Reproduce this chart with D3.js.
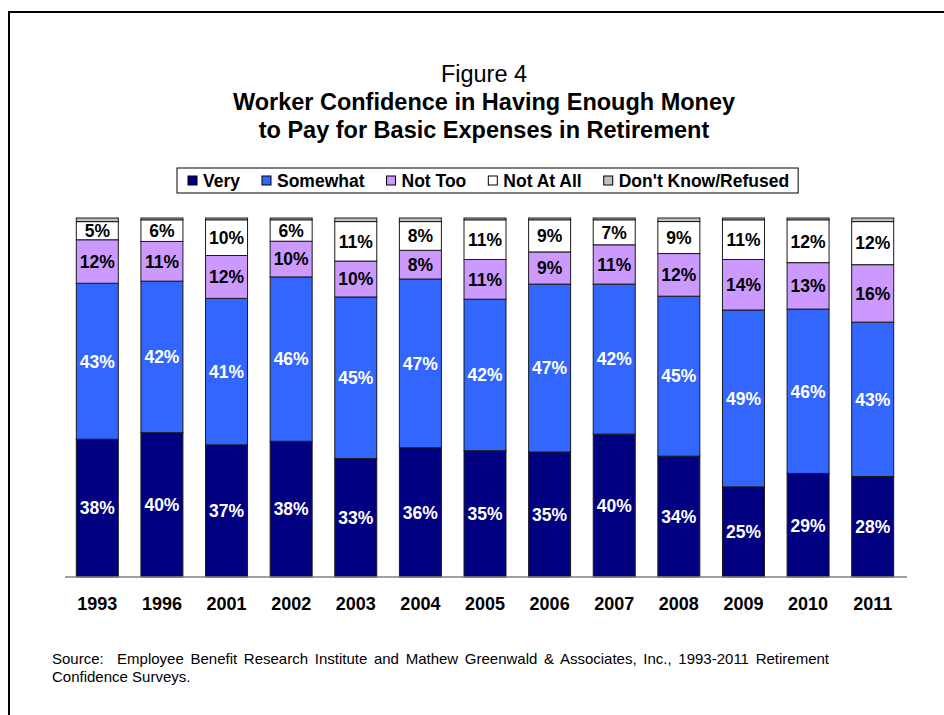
<!DOCTYPE html>
<html>

<head>
  <title>Figure 4</title>
  <script src="https://cdn.jsdelivr.net/npm/d3@7"></script>
  <style>
    body { margin: 0; background: #fff; }
    text { font-family: Arial, "Liberation Sans", sans-serif; white-space: pre; }
  </style>
</head>

<body>
  <svg width="944" height="715" id="mainsvg"></svg>
  <script>
    // values (percent)
    const years = ['1993', '1996', '2001', '2002', '2003', '2004', '2005', '2006', '2007', '2008', '2009', '2010', '2011'];
    const very = [38, 40, 37, 38, 33, 36, 35, 35, 40, 34, 25, 29, 28];
    const somewhat = [43, 42, 41, 46, 45, 47, 42, 47, 42, 45, 49, 46, 43];
    const notToo = [12, 11, 12, 10, 10, 8, 11, 9, 11, 12, 14, 13, 16];
    const notAtAll = [5, 6, 10, 6, 11, 8, 11, 9, 7, 9, 11, 12, 12];
    const dontKnow = [1, 0.5, 0.5, 0.5, 1, 1, 0.5, 0.5, 0.5, 1, 0.5, 0.5, 1]; // no labels shown, estimated from the grey slivers

    const seriesNames = ['Very', 'Somewhat', 'Not Too', 'Not At All', "Don't Know/Refused"];
    const seriesValues = [very, somewhat, notToo, notAtAll, dontKnow];
    const colors = ['#000080', '#3366FF', '#CC99FF', '#FFFFFF', '#C0C0C0'];
    const labelColors = ['#fff', '#fff', '#000', '#000', null];

    const svg = d3.select('#mainsvg');
    const width = +svg.attr('width');
    const height = +svg.attr('height');

    // frame (right and bottom edges run off the page)
    svg.append('rect')
      .attr('x', 9).attr('y', 12)
      .attr('width', width + 20).attr('height', height + 20)
      .attr('fill', 'none').attr('stroke', '#000').attr('stroke-width', 2);

    // titles
    svg.append('text').attr('x', 484).attr('y', 82)
      .attr('text-anchor', 'middle').attr('font-size', 23.5)
      .text('Figure 4');
    svg.append('text').attr('x', 484).attr('y', 110)
      .attr('text-anchor', 'middle').attr('font-size', 23.5).attr('font-weight', 'bold')
      .text('Worker Confidence in Having Enough Money');
    svg.append('text').attr('x', 484).attr('y', 138)
      .attr('text-anchor', 'middle').attr('font-size', 23.5).attr('font-weight', 'bold')
      .text('to Pay for Basic Expenses in Retirement');

    // data table
    const data = years.map((y, i) => {
      const row = { year: y };
      seriesNames.forEach((s, k) => { row[s] = seriesValues[k][i]; });
      return row;
    });

    const stack = d3.stack().keys(seriesNames).offset(d3.stackOffsetExpand);
    const stacked = stack(data);

    const xScale = d3.scaleBand()
      .domain(years)
      .range([65, 905])
      .paddingInner(0.35)
      .paddingOuter(0.175);

    const yScale = d3.scaleLinear()
      .domain([0, 1])
      .range([577, 218]);

    const g = svg.append('g').attr('id', 'maingroup');

    const layers = g.selectAll('.layer').data(stacked).join('g')
      .attr('class', 'layer')
      .attr('fill', (d, i) => colors[i]);

    layers.selectAll('rect').data(d => d).join('rect')
      .attr('x', d => xScale(d.data.year))
      .attr('y', d => yScale(d[1]))
      .attr('width', xScale.bandwidth())
      .attr('height', d => yScale(d[0]) - yScale(d[1]))
      .attr('stroke', '#1a1a1a')
      .attr('stroke-width', 1);

    // segment labels
    stacked.forEach((layer, i) => {
      if (!labelColors[i]) return;
      g.selectAll('.lbl' + i).data(layer).join('text')
        .attr('class', 'lbl' + i)
        .attr('x', d => xScale(d.data.year) + xScale.bandwidth() / 2)
        .attr('y', d => (yScale(d[0]) + yScale(d[1])) / 2)
        .attr('dy', '0.36em')
        .attr('text-anchor', 'middle')
        .attr('font-size', 17.5).attr('font-weight', 'bold')
        .attr('fill', labelColors[i])
        .text(d => d.data[layer.key] + '%');
    });

    // x axis
    const xAxis = d3.axisBottom(xScale).tickSize(0).tickPadding(20);
    const xAxisGroup = g.append('g').call(xAxis)
      .attr('transform', 'translate(0, 577)');
    xAxisGroup.select('.domain').attr('stroke', '#808080').attr('stroke-width', 1.5)
      .attr('d', 'M65,0H907');
    xAxisGroup.selectAll('.tick text')
      .attr('font-size', 18).attr('font-weight', 'bold').attr('fill', '#000')
      .attr('font-family', 'Arial, "Liberation Sans", sans-serif');

    // legend
    const legend = svg.append('g').attr('id', 'legend');
    const legendBox = legend.append('rect')
      .attr('y', 168).attr('height', 25)
      .attr('fill', '#fff').attr('stroke', '#000').attr('stroke-width', 1);
    let lx = 188;
    seriesNames.forEach((name, i) => {
      legend.append('rect')
        .attr('x', lx).attr('y', 176).attr('width', 9).attr('height', 9)
        .attr('fill', colors[i]).attr('stroke', '#000').attr('stroke-width', 1);
      const t = legend.append('text')
        .attr('x', lx + 15).attr('y', 187)
        .attr('font-size', 17.5).attr('font-weight', 'bold')
        .text(name);
      lx += 15 + t.node().getComputedTextLength() + 22;
    });
    legendBox.attr('x', 177).attr('width', lx - 22 + 9 - 177);

    // source note: first line is justified out to the right margin
    const src1 = svg.append('text').attr('x', 52).attr('y', 664)
      .attr('font-size', 15)
      .text('Source:  Employee Benefit Research Institute and Mathew Greenwald & Associates, Inc., 1993-2011 Retirement');
    const natural = src1.node().getComputedTextLength();
    const nSpaces = src1.text().split(' ').length - 1;
    src1.attr('word-spacing', Math.max(0, (829 - 52 - natural) / nSpaces));
    svg.append('text').attr('x', 52).attr('y', 682)
      .attr('font-size', 15)
      .text('Confidence Surveys.');
  </script>
</body>

</html>
